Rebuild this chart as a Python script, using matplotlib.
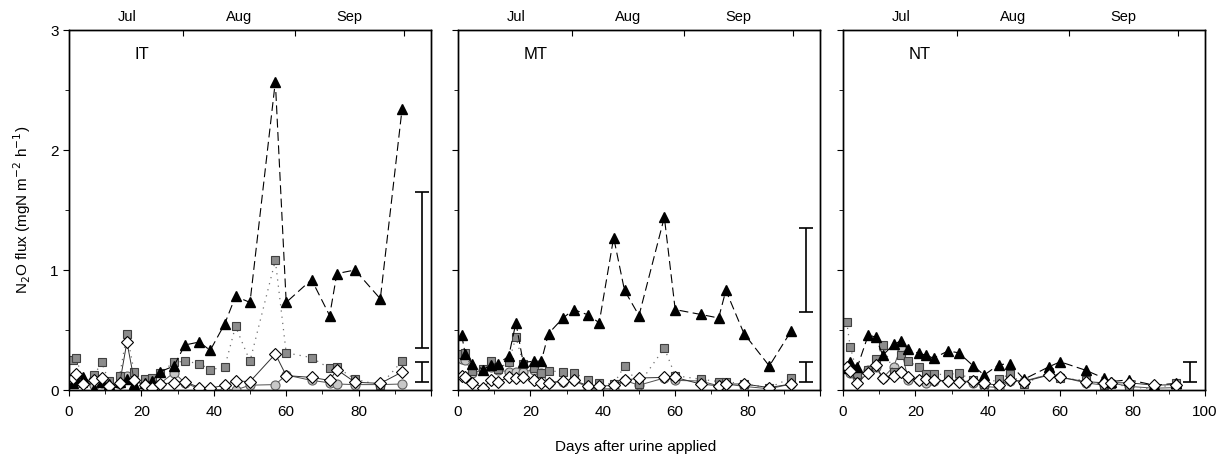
import numpy as np
import matplotlib
matplotlib.use("Agg")
import matplotlib.pyplot as plt
from matplotlib.ticker import MultipleLocator, FixedLocator, NullFormatter

plt.rcParams['font.family'] = ['Liberation Sans', 'DejaVu Sans']
plt.rcParams['font.size'] = 10

# days after urine applied (same sampling for every treatment)
days = [1, 2, 4, 7, 9, 11, 14, 16, 18, 21, 23, 25, 29, 32, 36, 39, 43, 46, 50,
        57, 60, 67, 72, 74, 79, 86, 92]

panels = ["IT", "MT", "NT"]

# black triangles
tri_IT = [0.06, 0.08, 0.105, 0.005, 0.07, 0.05, 0.07, 0.09, 0.05, 0.06, 0.075, 0.15, 0.2,
          0.375, 0.4, 0.33, 0.55, 0.78, 0.73, 2.57, 0.73, 0.92, 0.62, 0.97, 1.0, 0.76, 2.34]
tri_MT = [0.46, 0.3, 0.22, 0.17, 0.21, 0.22, 0.28, 0.56, 0.23, 0.24, 0.24, 0.47, 0.6,
          0.67, 0.625, 0.56, 1.27, 0.83, 0.62, 1.44, 0.67, 0.63, 0.6, 0.83, 0.47, 0.2, 0.49]
tri_NT = [0.18, 0.235, 0.195, 0.46, 0.44, 0.29, 0.38, 0.41, 0.34, 0.305, 0.29, 0.265, 0.325,
          0.31, 0.2, 0.125, 0.21, 0.22, 0.09, 0.195, 0.235, 0.165, 0.1, 0.07, 0.085, 0.04, 0.055]

# dark grey squares
sq_IT = [0.25, 0.27, 0.06, 0.125, 0.23, 0.075, 0.12, 0.47, 0.15, 0.09, 0.10, 0.14, 0.23,
         0.24, 0.22, 0.17, 0.19, 0.53, 0.24, 1.08, 0.31, 0.27, 0.18, 0.19, 0.09, 0.04, 0.24]
sq_MT = [0.3, 0.31, 0.16, 0.175, 0.245, 0.175, 0.23, 0.44, 0.22, 0.18, 0.145, 0.16, 0.15,
         0.145, 0.08, 0.06, 0.05, 0.2, 0.05, 0.35, 0.12, 0.09, 0.07, 0.07, 0.05, 0.02, 0.1]
sq_NT = [0.57, 0.36, 0.13, 0.17, 0.255, 0.375, 0.15, 0.29, 0.24, 0.19, 0.13, 0.13, 0.13,
         0.14, 0.08, 0.05, 0.09, 0.13, 0.05, 0.15, 0.1, 0.08, 0.04, 0.05, 0.03, 0.005, 0.06]

# light grey circles
circ_IT = [0.08, 0.1, 0.06, 0.04, 0.06, 0.03, 0.05, 0.12, 0.08, 0.04, 0.04, 0.05, 0.145,
           0.06, 0.01, 0.005, 0.0, 0.0, 0.04, 0.045, 0.125, 0.08, 0.06, 0.05, 0.045, 0.045, 0.05]
circ_MT = [0.26, 0.25, 0.14, 0.17, 0.19, 0.17, 0.15, 0.15, 0.15, 0.17, 0.14, 0.06, 0.07,
           0.08, 0.02, 0.01, 0.01, 0.08, 0.04, 0.1, 0.08, 0.075, 0.035, 0.05, 0.03, 0.01, 0.05]
circ_NT = [0.18, 0.145, 0.11, 0.165, 0.19, 0.1, 0.195, 0.355, 0.085, 0.085, 0.06, 0.075, 0.075,
           0.075, 0.06, 0.03, 0.02, 0.075, 0.075, 0.13, 0.11, 0.06, 0.04, 0.06, 0.03, 0.015, 0.02]

# open diamonds
dia_IT = [0.1, 0.13, 0.05, 0.08, 0.1, 0.035, 0.055, 0.4, 0.08, 0.04, 0.02, 0.05, 0.06,
          0.07, 0.02, 0.015, 0.04, 0.075, 0.07, 0.3, 0.12, 0.105, 0.08, 0.17, 0.065, 0.055, 0.15]
dia_MT = [0.12, 0.105, 0.06, 0.02, 0.08, 0.07, 0.105, 0.1, 0.105, 0.08, 0.06, 0.06, 0.075,
          0.08, 0.035, 0.03, 0.04, 0.08, 0.1, 0.105, 0.105, 0.05, 0.035, 0.05, 0.05, 0.02, 0.05]
dia_NT = [0.19, 0.16, 0.06, 0.145, 0.21, 0.1, 0.115, 0.15, 0.105, 0.085, 0.09, 0.085, 0.075,
          0.07, 0.075, 0.055, 0.04, 0.085, 0.07, 0.125, 0.105, 0.07, 0.06, 0.06, 0.06, 0.04, 0.045]

# error bars (low, high) drawn at the right of each panel
err_big = [(0.35, 1.65), (0.65, 1.35), None]
err_small = [(0.07, 0.23), (0.07, 0.23), (0.07, 0.23)]
err_x = [97.5, 96.2, 95.8]

months = ["Jul", "Aug", "Sep"]
month_edges = [0.5, 31.5, 62.5, 92.5]

data = {
    "IT": (tri_IT, sq_IT, circ_IT, dia_IT),
    "MT": (tri_MT, sq_MT, circ_MT, dia_MT),
    "NT": (tri_NT, sq_NT, circ_NT, dia_NT),
}

fig = plt.figure(figsize=(12.29, 4.61), dpi=100)
lefts = [69 / 1229, 458 / 1229, 843 / 1229]
w = 362 / 1229
b = 1 - 390 / 461
h = 360 / 461

for i, name in enumerate(panels):
    ax = fig.add_axes([lefts[i], b, w, h])
    tri, sq, circ, dia = data[name]

    ax.plot(days, circ, '-', color='#505050', lw=0.7, marker='o', ms=6.5,
            mfc='#c8c8c8', mec='#606060', mew=0.8, zorder=3)
    ax.plot(days, sq, color='#707070', lw=0.9, ls=(0, (1, 4)), marker='s', ms=6,
            mfc='#8c8c8c', mec='#404040', mew=0.8, zorder=4)
    ax.plot(days, tri, color='black', lw=0.8, ls=(0, (8, 4)), marker='^', ms=6.5,
            mfc='black', mec='black', zorder=5)
    ax.plot(days, dia, '-', color='#303030', lw=0.7, marker='D', ms=6,
            mfc='white', mec='black', mew=0.8, zorder=6)

    if err_big[i] is not None:
        lo, hi = err_big[i]
        ax.errorbar([err_x[i]], [(lo + hi) / 2], yerr=[(hi - lo) / 2], fmt='none',
                    ecolor='black', elinewidth=1.2, capsize=5, capthick=1.2)
    lo, hi = err_small[i]
    ax.errorbar([err_x[i]], [(lo + hi) / 2], yerr=[(hi - lo) / 2], fmt='none',
                ecolor='black', elinewidth=1.2, capsize=5, capthick=1.2)

    ax.text(18, 2.8, name, fontsize=12, ha='left', va='center')

    ax.set_xlim(0, 100)
    ax.set_ylim(0, 3)
    ax.xaxis.set_major_locator(MultipleLocator(20))
    ax.xaxis.set_minor_locator(MultipleLocator(10))
    ax.yaxis.set_major_locator(MultipleLocator(1))
    ax.yaxis.set_minor_locator(MultipleLocator(0.5))
    ax.tick_params(axis='both', which='both', direction='out', top=False, right=False,
                   labelsize=11)
    ax.tick_params(which='major', length=4)
    ax.tick_params(which='minor', length=3)
    ax.tick_params(axis='x', pad=7)
    if i < 2:
        ax.set_xticks([0, 20, 40, 60, 80, 100])
        ax.set_xticklabels(['0', '20', '40', '60', '80', ''])
    if i > 0:
        ax.yaxis.set_major_formatter(NullFormatter())
    else:
        ax.set_ylabel("N$_2$O flux (mgN m$^{-2}$ h$^{-1}$)", fontsize=11, labelpad=12)

    # month axis on top
    top = ax.twiny()
    top.set_xlim(0, 100)
    top.xaxis.set_major_locator(FixedLocator(month_edges[1:]))
    top.xaxis.set_major_formatter(NullFormatter())
    mids = [(month_edges[k] + month_edges[k + 1]) / 2 for k in range(3)]
    top.xaxis.set_minor_locator(FixedLocator(mids))
    top.set_xticklabels(months, minor=True)
    top.tick_params(which='major', direction='in', length=4)
    top.tick_params(which='minor', length=0, labelsize=10.5, pad=4)

    for a in (ax, top):
        for s in a.spines.values():
            s.set_linewidth(1.0)

fig.text(636 / 1229, 1 - 447 / 461, "Days after urine applied", ha='center',
         va='center', fontsize=11)

fig.savefig("out.png", dpi=100)
